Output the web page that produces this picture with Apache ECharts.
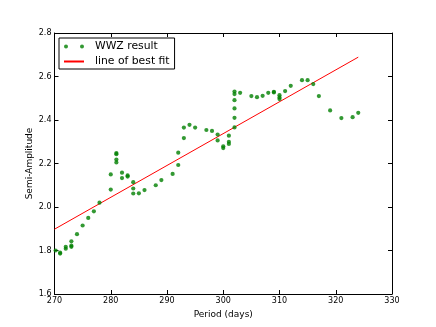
<!DOCTYPE html>
<html>
<head>
<meta charset="utf-8">
<script src="https://cdn.jsdelivr.net/npm/echarts@6/dist/echarts.min.js"></script>
<style>html,body{margin:0;padding:0;background:#fff}#c{width:436px;height:327px}</style>
</head>
<body>
<div id="c"></div>
<script>
var wwzPeriod = [270.2, 271, 271, 272, 272, 273, 273, 273, 274, 275, 276, 277, 278,
  280, 280, 281, 281, 281, 281, 282, 282, 283, 283, 284, 284, 284, 285, 286, 288, 289,
  291, 292, 292, 293, 293, 294, 295, 297, 298, 299, 299, 300, 300, 301, 301, 301,
  302, 302, 302, 302, 302, 302, 303, 305, 306, 307, 308, 309, 309, 310, 310, 310,
  311, 312, 314, 315, 316, 317, 319, 321, 323, 324];
var wwzAmp = [1.80, 1.79, 1.786, 1.817, 1.808, 1.842, 1.822, 1.817, 1.875, 1.915, 1.95, 1.98, 2.02,
  2.15, 2.08, 2.248, 2.243, 2.218, 2.205, 2.158, 2.133, 2.145, 2.14, 2.114, 2.085, 2.062, 2.063, 2.078, 2.10, 2.124,
  2.152, 2.193, 2.25, 2.317, 2.365, 2.378, 2.365, 2.354, 2.35, 2.333, 2.306, 2.279, 2.271, 2.328, 2.30, 2.29,
  2.531, 2.519, 2.491, 2.453, 2.41, 2.366, 2.525, 2.51, 2.505, 2.511, 2.525, 2.53, 2.527, 2.514, 2.504, 2.496,
  2.533, 2.557, 2.583, 2.583, 2.565, 2.51, 2.444, 2.409, 2.413, 2.433];
var fitPeriod = [270, 324];
var fitAmp = [1.898, 2.689];
var seriesNames = ['WWZ result', 'line of best fit'];
var xLabel = 'Period (days)';
var yLabel = 'Semi-Amplitude';

var scatterData = wwzPeriod.map(function (p, i) { return [p, wwzAmp[i]]; });
var fitData = fitPeriod.map(function (p, i) { return [p, fitAmp[i]]; });

var font = 'DejaVu Sans';
function xAx(pos, show) {
  return {
    type: 'value', position: pos, min: 270, max: 330, interval: 10,
    name: show ? xLabel : '', nameLocation: 'middle', nameGap: 14,
    nameTextStyle: { fontFamily: font, fontSize: 9, color: '#000' },
    axisLine: { show: true, onZero: false, lineStyle: { color: '#000', width: 1 } },
    axisTick: { show: true, inside: true, length: 4, lineStyle: { color: '#000' } },
    axisLabel: { show: show, fontFamily: font, fontSize: 8, color: '#000', margin: 3 },
    splitLine: { show: false }
  };
}
function yAx(pos, show) {
  return {
    type: 'value', position: pos, min: 1.6, max: 2.8, interval: 0.2,
    axisLine: { show: true, onZero: false, lineStyle: { color: '#000', width: 1 } },
    axisTick: { show: true, inside: true, length: 4, lineStyle: { color: '#000' } },
    axisLabel: { show: show, fontFamily: font, fontSize: 8, color: '#000', margin: 3,
      formatter: function (v) { return v.toFixed(1); } },
    splitLine: { show: false }
  };
}

var chart = echarts.init(document.getElementById('c'), null, { renderer: 'canvas' });
chart.setOption({
  animation: false,
  backgroundColor: '#fff',
  grid: { left: 54.5, right: 44, top: 33, bottom: 33 },
  xAxis: [xAx('bottom', true), xAx('top', false)],
  yAxis: [yAx('left', true), yAx('right', false)],
  graphic: [{
    type: 'text', x: 30, y: 163.5, rotation: Math.PI / 2,
    style: { text: yLabel, fontFamily: font, fontSize: 9, fill: '#000', align: 'center', verticalAlign: 'middle' }
  }],
  legend: {
    left: 59, top: 38, orient: 'vertical',
    padding: [3, 5, 2, 4], itemGap: 4, itemWidth: 20, itemHeight: 4,
    borderColor: '#000', borderWidth: 1, backgroundColor: '#fff',
    textStyle: { fontFamily: font, fontSize: 10.8, color: '#000', padding: [0, 0, 0, 6] },
    data: [
      { name: seriesNames[0], icon: 'path://M0,2a2,2 0 1,0 4,0a2,2 0 1,0 -4,0zM16,2a2,2 0 1,0 4,0a2,2 0 1,0 -4,0z' },
      { name: seriesNames[1], itemStyle: { opacity: 0 } }
    ]
  },
  series: [
    {
      name: seriesNames[1], type: 'line', data: fitData, symbol: 'none', showSymbol: false,
      lineStyle: { color: '#ff0000', width: 1 }, itemStyle: { color: '#ff0000' }, z: 2
    },
    {
      name: seriesNames[0], type: 'scatter', data: scatterData, symbol: 'circle', symbolSize: 4.2,
      itemStyle: { color: '#008000' }, z: 3
    }
  ]
});
</script>
</body>
</html>
